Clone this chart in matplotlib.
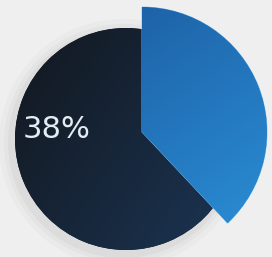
import numpy as np
import matplotlib.pyplot as plt
from matplotlib.patches import Circle

# slices, clockwise from 12 o'clock
names = ['Share', 'Rest']
values = [38, 62]
label = '38%'


def gradient(ax, patch, c0, c1, angle, z):
    # linear colour ramp clipped to a patch
    yy, xx = np.mgrid[0:257:2, 0:272:2]
    a = np.deg2rad(angle)
    t = xx * np.cos(a) + yy * np.sin(a)
    t = (t - t.min()) / (t.max() - t.min())
    c0 = np.array(c0)
    c1 = np.array(c1)
    img = c0 + (c1 - c0) * t[..., None]
    im = ax.imshow(img, extent=(0, 272, 0, 257), origin='lower', zorder=z,
                   interpolation='bilinear')
    im.set_clip_path(patch)


def main():
    fig = plt.figure(figsize=(2.72, 2.57), dpi=100)
    fig.patch.set_facecolor('#efefef')
    ax = fig.add_axes([0, 0, 1, 1])

    # soft shadow
    for r, al in [(124, 0.03), (119, 0.04), (115, 0.05)]:
        ax.add_patch(Circle((123, 114), r, color='#555555', alpha=al, lw=0, zorder=1))

    wedges, _ = ax.pie(values, startangle=90, counterclock=False,
                       center=(142, 125), radius=125,
                       colors=['#1f70b8', '#161b22'], frame=False)
    blue, dark = wedges
    dark.set_center((126, 118))
    dark.set_radius(111)
    # the dark slice sits behind the raised blue one, tuck it underneath
    half = (blue.theta2 - blue.theta1) / 2
    dark.set_theta1(dark.theta1 - half)
    dark.set_theta2(dark.theta2 + half)
    dark.set_zorder(2)
    blue.set_zorder(4)
    blue.set_edgecolor('#7fc4f0')
    blue.set_linewidth(0.6)

    gradient(ax, dark, (0.07, 0.08, 0.10), (0.11, 0.22, 0.35), -35, 3)
    gradient(ax, blue, (0.10, 0.33, 0.60), (0.17, 0.57, 0.85), -55, 5)

    ax.text(57, 127, label, color='#e2ecf2', fontsize=22,
            ha='center', va='center', zorder=6)

    ax.set_xlim(0, 272)
    ax.set_ylim(0, 257)
    ax.set_aspect('equal')
    ax.axis('off')

    fig.savefig('out.png', dpi=100, facecolor=fig.get_facecolor())


if __name__ == '__main__':
    main()
